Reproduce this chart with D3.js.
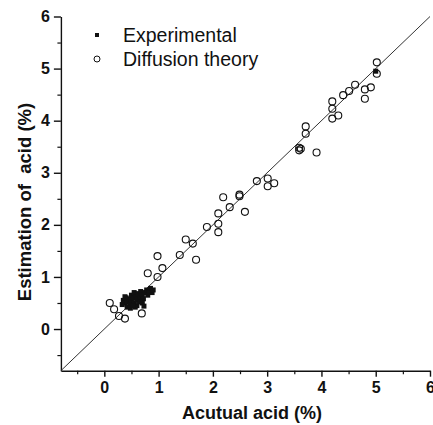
<!DOCTYPE html>
<html><head><meta charset="utf-8">
<script src="https://cdn.jsdelivr.net/npm/d3@7"></script>
<style>body{margin:0;background:#fff;} svg{display:block;}</style>
</head><body>
<script>
const diffusion = [
  [5.02,5.12],[5.02,4.90],[4.62,4.69],[4.51,4.57],[4.40,4.49],[4.80,4.60],[4.91,4.64],[4.80,4.42],
  [4.20,4.37],[4.20,4.23],[4.20,4.04],[4.31,4.10],[3.71,3.89],[3.71,3.75],[3.59,3.48],[3.59,3.43],
  [3.91,3.39],[3.01,2.89],[3.13,2.80],[3.01,2.74],[2.81,2.84],[2.49,2.55],[2.49,2.58],[2.19,2.53],[2.31,2.34],
  [2.59,2.25],[2.10,2.22],[2.10,2.02],[2.10,1.86],[1.89,1.96],[1.50,1.72],[1.63,1.64],[1.39,1.42],
  [1.69,1.33],[0.98,1.40],[1.07,1.17],[0.80,1.07],[0.98,1.00],[0.10,0.50],[0.18,0.38],[0.27,0.25],
  [0.38,0.20],[0.69,0.30],[3.62,3.46]
];
const experimental = [
  [0.35,0.55],[0.38,0.50],[0.40,0.60],[0.42,0.52],[0.45,0.58],[0.47,0.48],[0.50,0.55],[0.50,0.65],
  [0.53,0.60],[0.55,0.50],[0.55,0.70],[0.58,0.62],[0.60,0.55],[0.60,0.45],[0.62,0.68],[0.65,0.60],
  [0.67,0.72],[0.70,0.65],[0.72,0.58],[0.75,0.70],[0.78,0.75],[0.80,0.65],[0.82,0.72],[0.85,0.78],
  [0.88,0.70],[0.90,0.75],[0.42,0.42],[0.48,0.40],[0.33,0.47],[0.57,0.42],[0.70,0.50],[0.73,0.44],
  [0.65,0.52],[0.52,0.45],[0.38,0.62],[5.00,4.95]
];
const xTicks = [0,1,2,3,4,5,6];
const yTicks = [0,1,2,3,4,5,6];
const minorTicks = [-0.5,0.5,1.5,2.5,3.5,4.5,5.5];
const fitLine = [[-0.8,-0.8],[6,6]];

const W=433,H=425;
const svg=d3.select("body").append("svg").attr("width",W).attr("height",H);
const x=d3.scaleLinear().domain([-0.8,6]).range([60.9,430]);
const y=d3.scaleLinear().domain([-0.8,6]).range([370.7,16.5]);
const bold="'Liberation Sans', Arial, sans-serif";

// axes
const xAxis=d3.axisBottom(x).tickValues(xTicks).tickFormat(d3.format("d")).tickSize(6).tickSizeOuter(0).tickPadding(5);
const yAxis=d3.axisLeft(y).tickValues(yTicks).tickFormat(d3.format("d")).tickSize(7).tickSizeOuter(0).tickPadding(4);
const gx=svg.append("g").attr("transform",`translate(0,${y(-0.8)})`).call(xAxis);
const gy=svg.append("g").attr("transform",`translate(${x(-0.8)},0)`).call(yAxis);
[gx,gy].forEach(g=>{
  g.selectAll("path,line").attr("stroke","#111").attr("stroke-width",1.4);
  g.selectAll("text").attr("font-family",bold).attr("font-weight","bold").attr("font-size",16).attr("fill","#111");
});
// minor ticks
svg.append("g").attr("transform",`translate(0,${y(-0.8)})`).call(d3.axisBottom(x).tickValues(minorTicks).tickSize(3.5).tickSizeOuter(0).tickFormat(""))
  .call(g=>{g.select("path").remove();g.selectAll("line").attr("stroke","#111").attr("stroke-width",1.2);});
svg.append("g").attr("transform",`translate(${x(-0.8)},0)`).call(d3.axisLeft(y).tickValues(minorTicks).tickSize(3.5).tickSizeOuter(0).tickFormat(""))
  .call(g=>{g.select("path").remove();g.selectAll("line").attr("stroke","#111").attr("stroke-width",1.2);});

// fit line
svg.append("path").datum(fitLine)
  .attr("d",d3.line().x(d=>x(d[0])).y(d=>y(d[1])))
  .attr("stroke","#333").attr("stroke-width",1).attr("fill","none");

// diffusion circles
svg.append("g").selectAll("circle").data(diffusion).join("circle")
  .attr("cx",d=>x(d[0])).attr("cy",d=>y(d[1])).attr("r",3.5)
  .attr("fill","none").attr("stroke","#111").attr("stroke-width",1.1);
// experimental squares
svg.append("g").selectAll("rect").data(experimental).join("rect")
  .attr("x",d=>x(d[0])-2.5).attr("y",d=>y(d[1])-2.5).attr("width",5).attr("height",5)
  .attr("fill","#111");

// legend
svg.append("rect").attr("x",95).attr("y",33).attr("width",4).attr("height",4).attr("fill","#111");
svg.append("circle").attr("cx",97).attr("cy",59).attr("r",3).attr("fill","none").attr("stroke","#111").attr("stroke-width",1);
svg.append("text").attr("x",123).attr("y",42).text("Experimental")
  .attr("font-family",bold).attr("font-size",19.5).attr("fill","#111");
svg.append("text").attr("x",123).attr("y",66).text("Diffusion theory")
  .attr("font-family",bold).attr("font-size",19.5).attr("fill","#111");

// axis titles
svg.append("text").attr("x",252).attr("y",419).attr("text-anchor","middle").text("Acutual acid (%)")
  .attr("font-family",bold).attr("font-weight","bold").attr("font-size",18).attr("fill","#111");
svg.append("text").attr("transform","translate(31,202) rotate(-90)").attr("text-anchor","middle")
  .attr("xml:space","preserve").style("white-space","pre").text("Estimation of  acid (%)")
  .attr("font-family",bold).attr("font-weight","bold").attr("font-size",18.5).attr("fill","#111");
</script>
</body></html>
